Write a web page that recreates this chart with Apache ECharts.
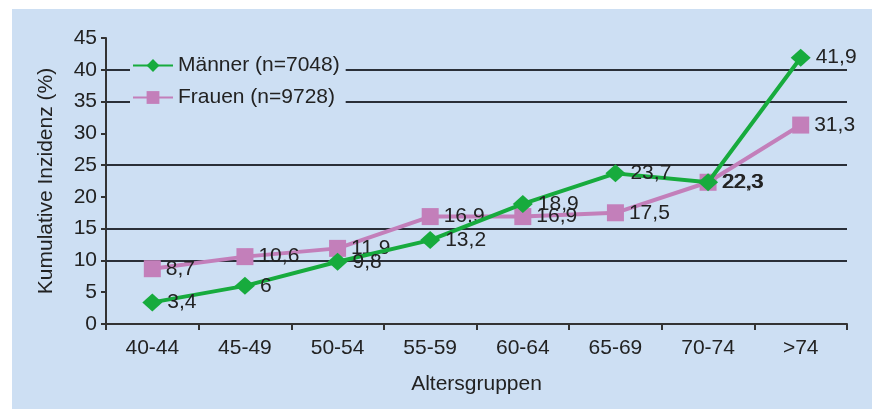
<!DOCTYPE html>
<html>
<head>
<meta charset="utf-8">
<script src="https://cdn.jsdelivr.net/npm/echarts@6/dist/echarts.min.js"></script>
<style>
  html, body { margin: 0; padding: 0; background: #fff; }
  #chart { position: absolute; left: 12px; top: 9px; width: 860px; height: 400px; background: #cddff3; }
</style>
</head>
<body>
<div id="chart"></div>
<script>
// Altersgruppen
var categories = ['40-44', '45-49', '50-54', '55-59', '60-64', '65-69', '70-74', '>74'];
// kumulative Inzidenz in %
var maenner = [3.4, 6, 9.8, 13.2, 18.9, 23.7, 22.3, 41.9];
var frauen = [8.7, 10.6, 11.9, 16.9, 16.9, 17.5, 22.3, 31.3];
// nur diese Gitterlinien sind im Original zu sehen
var gridValues = [10, 15, 25, 35, 40];

var font = 'Liberation Sans, Arial, sans-serif';
var txt = '#222';

function komma(p) {
    return String(p.value).replace('.', ',');
}

var chart = echarts.init(document.getElementById('chart'));
chart.setOption({
    backgroundColor: '#cddff3',
    animation: false,
    grid: { left: 94, right: 25, top: 29, bottom: 85 },
    legend: {
        orient: 'vertical',
        left: 118,
        top: 46,
        z: 10,
        itemWidth: 40,
        itemHeight: 16,
        itemGap: 11,
        padding: [0, 6, 0, 2],
        backgroundColor: '#cddff3',
        textStyle: { fontFamily: font, fontSize: 21, color: txt },
        data: ['Männer (n=7048)', 'Frauen (n=9728)']
    },
    xAxis: {
        type: 'category',
        data: categories,
        boundaryGap: true,
        name: 'Altersgruppen',
        nameLocation: 'middle',
        nameGap: 50,
        nameTextStyle: { fontFamily: font, fontSize: 21, color: txt },
        axisLine: { lineStyle: { color: '#333', width: 2 } },
        axisTick: { show: true, length: 6, alignWithLabel: false, lineStyle: { color: '#333', width: 2 } },
        axisLabel: { fontFamily: font, fontSize: 21, color: txt, margin: 14 }
    },
    yAxis: {
        type: 'value',
        min: 0,
        max: 45,
        interval: 5,
        name: 'Kumulative Inzidenz (%)',
        nameLocation: 'middle',
        nameGap: 49,
        nameTextStyle: { fontFamily: font, fontSize: 21, color: txt },
        axisLine: { show: true, lineStyle: { color: '#333', width: 2 } },
        axisTick: { show: true, length: 5, lineStyle: { color: '#333', width: 2 } },
        axisLabel: { fontFamily: font, fontSize: 21, color: txt, margin: 9 },
        splitLine: { show: false }
    },
    series: [
        {
            name: 'Männer (n=7048)',
            type: 'line',
            data: maenner,
            z: 3,
            color: '#17ab3d',
            symbol: 'diamond',
            symbolSize: [20, 18],
            lineStyle: { width: 4 },
            label: { show: true, position: 'right', distance: 5, formatter: komma, fontFamily: font, fontSize: 21, color: txt },
            markLine: {
                silent: true,
                z: 1,
                symbol: 'none',
                label: { show: false },
                lineStyle: { color: '#2a2f38', width: 2, type: 'solid' },
                data: gridValues.map(function (v) { return { yAxis: v }; })
            }
        },
        {
            name: 'Frauen (n=9728)',
            type: 'line',
            data: frauen,
            z: 2,
            color: '#c37fba',
            symbol: 'rect',
            symbolSize: 17,
            lineStyle: { width: 4 },
            label: { show: true, position: 'right', distance: 5, formatter: komma, fontFamily: font, fontSize: 21, color: txt }
        }
    ]
});
</script>
</body>
</html>
